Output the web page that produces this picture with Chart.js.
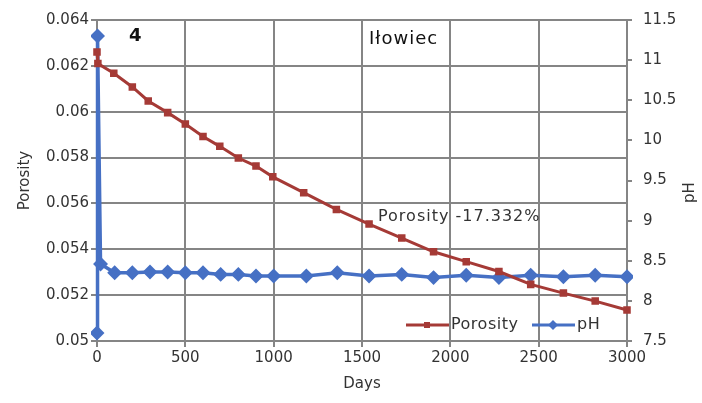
<!DOCTYPE html>
<html>
<head>
<meta charset="utf-8">
<script src="https://cdn.jsdelivr.net/npm/chart.js@4.4.0/dist/chart.umd.min.js"></script>
<style>
  html, body { margin: 0; padding: 0; background: #fff; }
</style>
</head>
<body>
<canvas id="grafico" width="702" height="403"></canvas>
<script>
// Datos (Iłowiec, muestra 4)
const diasPorosidad = [0, 5, 95, 200, 290, 400, 500, 600, 695, 800, 900, 995, 1170, 1355, 1540, 1725, 1905, 2090, 2275, 2455, 2640, 2820, 3000];
const porosidad = [0.0626, 0.0621, 0.06168, 0.06108, 0.06047, 0.05996, 0.05946, 0.05892, 0.05849, 0.05798, 0.05763, 0.05716, 0.05647, 0.05574, 0.05510, 0.05449, 0.05389, 0.05346, 0.05303, 0.05247, 0.05209, 0.05174, 0.05135];

const diasPH = [0, 3, 20, 100, 200, 300, 400, 500, 600, 700, 800, 900, 1000, 1185, 1360, 1540, 1725, 1905, 2090, 2275, 2455, 2640, 2820, 3000];
const ph = [7.6, 11.3, 8.46, 8.35, 8.35, 8.36, 8.36, 8.35, 8.35, 8.33, 8.33, 8.31, 8.31, 8.31, 8.35, 8.31, 8.33, 8.29, 8.32, 8.29, 8.32, 8.30, 8.32, 8.30];

// Etiquetas de los ejes
const etiquetasDias = ['0', '500', '1000', '1500', '2000', '2500', '3000'];
const etiquetasPorosidad = ['0.05', '0.052', '0.054', '0.056', '0.058', '0.06', '0.062', '0.064'];
const etiquetasPH = ['7.5', '8', '8.5', '9', '9.5', '10', '10.5', '11', '11.5'];

const ROJO = '#a53a36';
const AZUL = '#4670c4';
const GRIS = '#858585';
const TEXTO = '#333333';

Chart.defaults.font.family = 'DejaVu Sans';
Chart.defaults.font.size = 15;
Chart.defaults.color = TEXTO;

// Textos dentro del gráfico y leyenda
const extras = {
  id: 'extras',
  afterDraw(chart) {
    const ctx = chart.ctx;
    const a = chart.chartArea;
    ctx.save();
    ctx.fillStyle = '#111';
    ctx.textBaseline = 'middle';
    ctx.textAlign = 'left';
    ctx.font = 'bold 18px "DejaVu Sans"';
    ctx.fillText('4', a.left + 32, a.top + 16);
    ctx.font = '18px "DejaVu Sans"';
    ctx.letterSpacing = '1px';
    ctx.fillText('Iłowiec', a.left + 272, a.top + 19);
    ctx.fillStyle = TEXTO;
    ctx.font = '16px "DejaVu Sans"';
    ctx.fillText('Porosity -17.332%', a.left + 281, a.top + 197);
    ctx.letterSpacing = '0px';

    // pH eje derecho (rotado como el izquierdo)
    ctx.save();
    ctx.font = '15px "DejaVu Sans"';
    ctx.translate(690, (a.top + a.bottom) / 2 + 12);
    ctx.rotate(-Math.PI / 2);
    ctx.textAlign = 'center';
    ctx.fillText('pH', 0, 0);
    ctx.restore();

    // Leyenda
    const ly = a.bottom - 16;
    const items = [
      { ds: chart.data.datasets[0], x: a.left + 309 },
      { ds: chart.data.datasets[1], x: a.left + 435 }
    ];
    items.forEach(it => {
      ctx.strokeStyle = it.ds.borderColor;
      ctx.lineWidth = 3;
      ctx.beginPath();
      ctx.moveTo(it.x, ly);
      ctx.lineTo(it.x + 43, ly);
      ctx.stroke();
      ctx.fillStyle = it.ds.borderColor;
      ctx.beginPath();
      if (it.ds.pointStyle === 'rectRot') {
        const r = 5;
        ctx.moveTo(it.x + 21, ly - r);
        ctx.lineTo(it.x + 21 + r, ly);
        ctx.lineTo(it.x + 21, ly + r);
        ctx.lineTo(it.x + 21 - r, ly);
        ctx.closePath();
      } else {
        ctx.rect(it.x + 18, ly - 3, 6, 6);
      }
      ctx.fill();
      ctx.fillStyle = TEXTO;
      ctx.font = '16px "DejaVu Sans"';
      ctx.letterSpacing = '0.5px';
      ctx.fillText(it.ds.label, it.x + 45, ly);
      ctx.letterSpacing = '0px';
    });
    ctx.restore();
  }
};

new Chart(document.getElementById('grafico'), {
  type: 'line',
  data: {
    datasets: [
      {
        label: 'Porosity',
        data: diasPorosidad.map((d, i) => ({ x: d, y: porosidad[i] })),
        borderColor: ROJO,
        backgroundColor: ROJO,
        borderWidth: 3,
        pointStyle: 'rect',
        pointRadius: 3.2,
        clip: 4,
        yAxisID: 'y'
      },
      {
        label: 'pH',
        data: diasPH.map((d, i) => ({ x: d, y: ph[i] })),
        borderColor: AZUL,
        backgroundColor: AZUL,
        borderWidth: 3.5,
        pointStyle: 'rectRot',
        pointRadius: 5,
        clip: 6,
        yAxisID: 'y1'
      }
    ]
  },
  options: {
    responsive: false,
    animation: false,
    layout: { padding: { top: 15, left: 0, right: 0, bottom: 0 } },
    plugins: { legend: { display: false }, tooltip: { enabled: false } },
    scales: {
      x: {
        type: 'linear',
        min: 0, max: 3000,
        afterFit: s => { s.height = 62; },
        ticks: { stepSize: 500, padding: 2, callback: (v, i) => etiquetasDias[i] },
        grid: { color: GRIS, lineWidth: 2, tickLength: 6 },
        border: { color: GRIS, width: 2 },
        title: { display: true, text: 'Days', padding: { top: 0, bottom: 10 } }
      },
      y: {
        position: 'left',
        min: 0.05, max: 0.064,
        afterFit: s => { s.width = 97; },
        ticks: { stepSize: 0.002, padding: 2, callback: (v, i) => etiquetasPorosidad[i] },
        grid: { color: GRIS, lineWidth: 2, tickLength: 6 },
        border: { color: GRIS, width: 2 },
        title: { display: true, text: 'Porosity', padding: { top: 16, bottom: 0 } }
      },
      y1: {
        position: 'right',
        min: 7.5, max: 11.5,
        afterFit: s => { s.width = 75; },
        ticks: { stepSize: 0.5, padding: 11, callback: (v, i) => etiquetasPH[i] },
        grid: { drawOnChartArea: false, color: GRIS, lineWidth: 2, tickLength: 5 },
        border: { color: GRIS, width: 2 }
      }
    }
  },
  plugins: [extras]
});
</script>
</body>
</html>
